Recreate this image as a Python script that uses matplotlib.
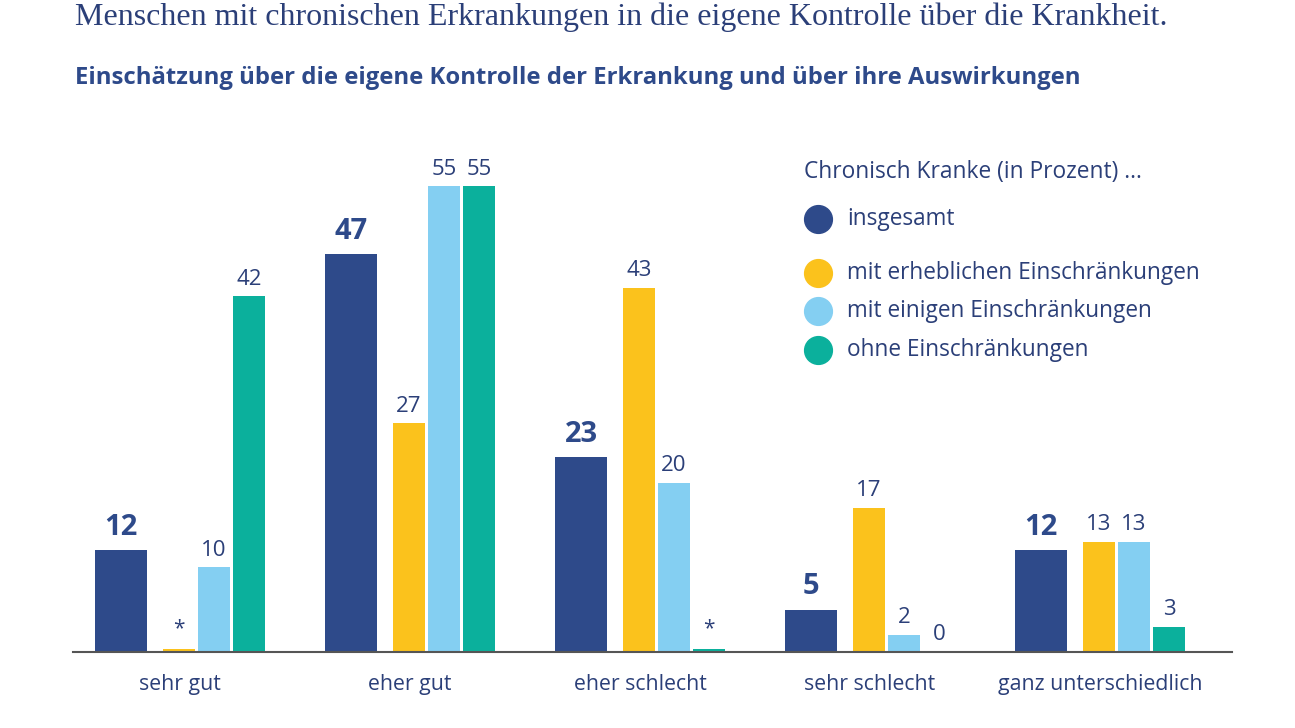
import matplotlib.pyplot as plt
from matplotlib.lines import Line2D

# Data
categories = ['sehr gut', 'eher gut', 'eher schlecht', 'sehr schlecht', 'ganz unterschiedlich']
series_names = ['insgesamt', 'mit erheblichen Einschränkungen',
                'mit einigen Einschränkungen', 'ohne Einschränkungen']
# '*' = fewer than 0.5 percent, drawn as a thin sliver
insgesamt = [12, 47, 23, 5, 12]
erheblich = [0.3, 27, 43, 17, 13]
einige = [10, 55, 20, 2, 13]
ohne = [42, 55, 0.3, 0, 3]
labels_insgesamt = ['12', '47', '23', '5', '12']
labels_erheblich = ['*', '27', '43', '17', '13']
labels_einige = ['10', '55', '20', '2', '13']
labels_ohne = ['42', '55', '*', '0', '3']

colors = ['#2E4A8A', '#FBC21C', '#84CFF2', '#0BB09C']
text_color = '#2B3F78'

plt.rcParams['font.family'] = ['Open Sans', 'DejaVu Sans']

W, H = 1295, 728
fig = plt.figure(figsize=(W / 100, H / 100), dpi=100)

# axes in pixel layout: baseline at y=652, x from 73 to 1232
ax = fig.add_axes([73 / W, (H - 652) / H, (1232 - 73) / W, (652 - 144) / H])
ax.set_xlim(-22 / 230, (1232 - 95) / 230)
ax.set_ylim(0, 60)

# bar positions inside a group (pixels / 230 px per group)
offsets = [0 / 230, 68 / 230, 103 / 230, 138 / 230]
widths = [52 / 230, 32 / 230, 32 / 230, 32 / 230]
all_values = [insgesamt, erheblich, einige, ohne]
all_labels = [labels_insgesamt, labels_erheblich, labels_einige, labels_ohne]

for s in range(4):
    xs = [i + offsets[s] for i in range(len(categories))]
    ax.bar(xs, all_values[s], width=widths[s], align='edge', color=colors[s],
           edgecolor='none', zorder=2)
    for x, v, lab in zip(xs, all_values[s], all_labels[s]):
        cx = x + widths[s] / 2
        if s == 0:
            ax.text(cx, v + 1.0, lab, ha='center', va='bottom', fontsize=21,
                    fontweight='bold', color='#2E4A8A')
        elif lab == '*':
            ax.text(cx, v + 1.2, lab, ha='center', va='bottom', fontsize=15,
                    color=text_color)
        else:
            ax.text(cx, v + 0.8, lab, ha='center', va='bottom', fontsize=16,
                    color=text_color)

for i, c in enumerate(categories):
    ax.text(i + 85 / 230, -3.8, c, ha='center', va='center', fontsize=15.3,
            color=text_color)

for side in ['top', 'right', 'left']:
    ax.spines[side].set_visible(False)
ax.spines['bottom'].set_color('#555555')
ax.spines['bottom'].set_linewidth(1.5)
ax.set_xticks([])
ax.set_yticks([])

# titles
fig.text(75 / W, 1 - 25 / H, 'Menschen mit chronischen Erkrankungen in die eigene Kontrolle über die Krankheit.',
         ha='left', va='baseline', fontsize=23, family=['Liberation Serif'],
         color=text_color)
fig.text(75 / W, 1 - 78 / H, 'Einschätzung über die eigene Kontrolle der Erkrankung und über ihre Auswirkungen',
         ha='left', va='center', fontsize=17.2, fontweight='bold', color='#2E4A8A')

# legend
fig.text(804 / W, 1 - 172 / H, 'Chronisch Kranke (in Prozent) …', ha='left', va='center',
         fontsize=16.4, color=text_color)
row_y = [219, 273, 311, 350]
for name, col, yy in zip(series_names, colors, row_y):
    fig.add_artist(Line2D([818 / W], [1 - yy / H], marker='o', markersize=20,
                          color=col, linestyle='none', transform=fig.transFigure))
    fig.text(847 / W, 1 - yy / H, name, ha='left', va='center', fontsize=16.3,
             color=text_color)

fig.savefig('out.png', dpi=100)
